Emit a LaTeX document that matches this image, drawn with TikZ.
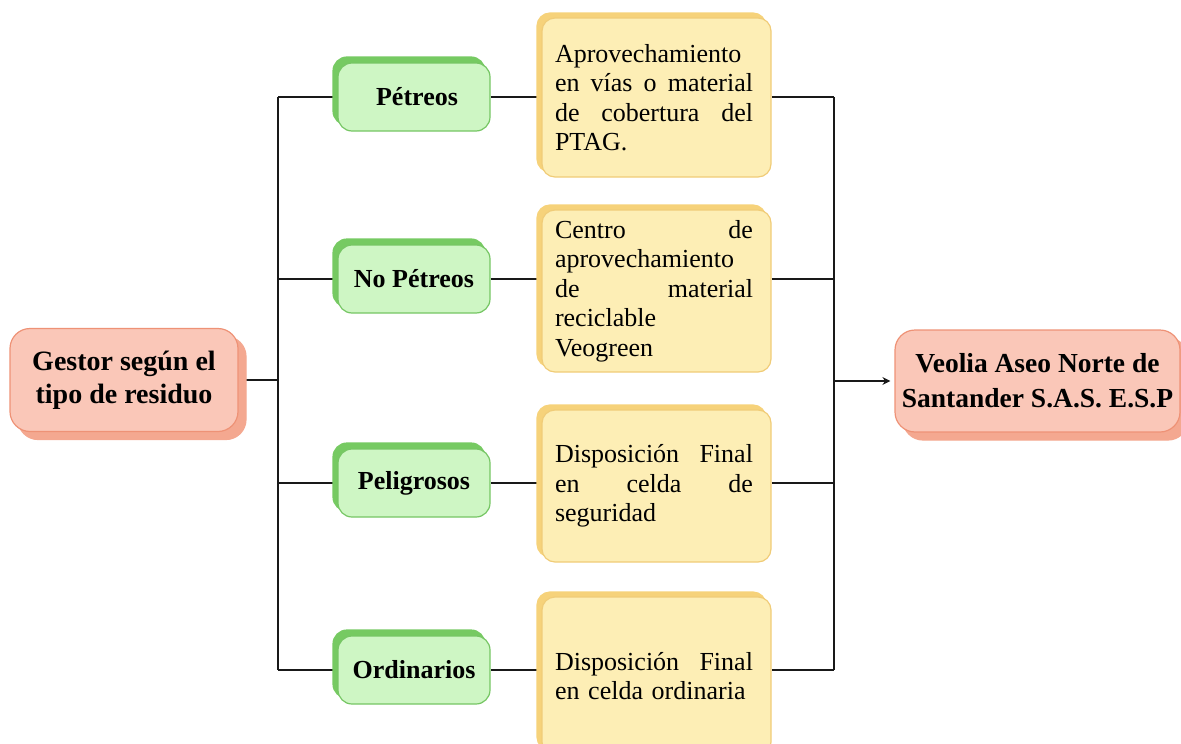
\documentclass[tikz,border=0pt]{standalone}
\usepackage{fontspec}
\setmainfont{Liberation Serif}
\usetikzlibrary{shadows,backgrounds,arrows.meta}
\definecolor{rfill}{RGB}{250,199,184}
\definecolor{rdraw}{RGB}{238,146,118}
\definecolor{rback}{RGB}{244,168,144}
\definecolor{gfill}{RGB}{206,246,196}
\definecolor{gdraw}{RGB}{118,198,100}
\definecolor{gback}{RGB}{118,202,98}
\definecolor{yfill}{RGB}{253,238,181}
\definecolor{ydraw}{RGB}{240,204,120}
\definecolor{yback}{RGB}{246,210,122}
\newcommand{\jline}[1]{\leavevmode\hbox to 198pt{#1}}
\begin{document}
\begin{tikzpicture}[x=1pt,y=-1pt,
  redcard/.style={draw=rdraw, fill=rfill, line width=1.2pt, rounded corners=20pt,
    inner sep=0pt, align=center, font=\bfseries\fontsize{28}{33}\selectfont,
    copy shadow={opacity=1, fill=rback, draw=rback, shadow xshift=8pt, shadow yshift=-8pt}},
  greencard/.style={draw=gdraw, fill=gfill, line width=1.2pt, rounded corners=14pt,
    inner sep=0pt, minimum width=152pt, minimum height=68pt,
    font=\bfseries\fontsize{26}{30}\selectfont,
    copy shadow={opacity=1, fill=gback, draw=gback, shadow xshift=-5pt, shadow yshift=6pt}},
  yellowcard/.style={draw=ydraw, fill=yfill, line width=1.2pt, rounded corners=13pt,
    inner sep=0pt, minimum width=229pt, text width=203pt, align=left,
    font=\fontsize{26}{29.5}\selectfont,
    copy shadow={opacity=1, fill=yback, draw=yback, shadow xshift=-5pt, shadow yshift=5pt}},
  conn/.style={line width=2pt, black!90},
  arr/.style={conn, -{Stealth[length=8pt,width=8pt]}}
]
\useasboundingbox (0,0) rectangle (1181,744);
\clip (0,0) rectangle (1181,744);

\node[redcard, minimum width=228pt, minimum height=103pt] (gestor) at (124,380) {Gestor según el\\tipo de residuo};
\node[redcard, minimum width=285pt, minimum height=102pt, font=\bfseries\fontsize{27.5}{35}\selectfont] (veolia) at (1037.5,381) {Veolia Aseo Norte de\\Santander S.A.S. E.S.P};

\node[greencard] (g1) at (414,97) {\hspace{6pt}Pétreos};
\node[greencard] (g2) at (414,279) {No Pétreos};
\node[greencard] (g3) at (414,483) {Peligrosos};
\node[greencard] (g4) at (414,670) {Ordinarios};

\node[yellowcard, minimum height=159pt] (y1) at (656.5,97.5) {Aprovechamiento\\ \jline{en\hfill vías\hfill o\hfill material}\\ \jline{de\hfill cobertura\hfill del}\\ PTAG.};
\node[yellowcard, minimum height=162pt] (y2) at (656.5,291) {\jline{Centro\hfill de}\\ aprovechamiento\\ \jline{de\hfill material}\\ reciclable\\ Veogreen};
\node[yellowcard, minimum height=152pt] (y3) at (656.5,486) {\jline{Disposición\hfill Final}\\ \jline{en\hfill celda\hfill de}\\ seguridad};
\node[yellowcard, minimum height=158pt] (y4) at (656.5,676) {\jline{Disposición\hfill Final}\\ en celda ordinaria};

\coordinate (lx) at (278,0);
\coordinate (rx) at (834,0);

\begin{pgfonlayer}{background}
\draw[conn] (gestor.east) -- (gestor.east -| lx);
\draw[conn] (g1.west -| lx) -- (g4.west -| lx);
\foreach \g in {g1,g2,g3,g4} {\draw[conn] (\g.west -| lx) -- (\g.west);}
\draw[conn] (g1.east) -- (g1.east -| y1.west);
\draw[conn] (g2.east) -- (g2.east -| y2.west);
\draw[conn] (g3.east) -- (g3.east -| y3.west);
\draw[conn] (g4.east) -- (g4.east -| y4.west);
\draw[conn] (y1.east |- g1) -- (rx |- g1);
\draw[conn] (y2.east |- g2) -- (rx |- g2);
\draw[conn] (y3.east |- g3) -- (rx |- g3);
\draw[conn] (y4.east |- g4) -- (rx |- g4);
\draw[conn] (rx |- g1) -- (rx |- g4);
\end{pgfonlayer}
\draw[arr, shorten >=4pt] (rx |- veolia) -- (veolia.west);
\end{tikzpicture}
\end{document}
